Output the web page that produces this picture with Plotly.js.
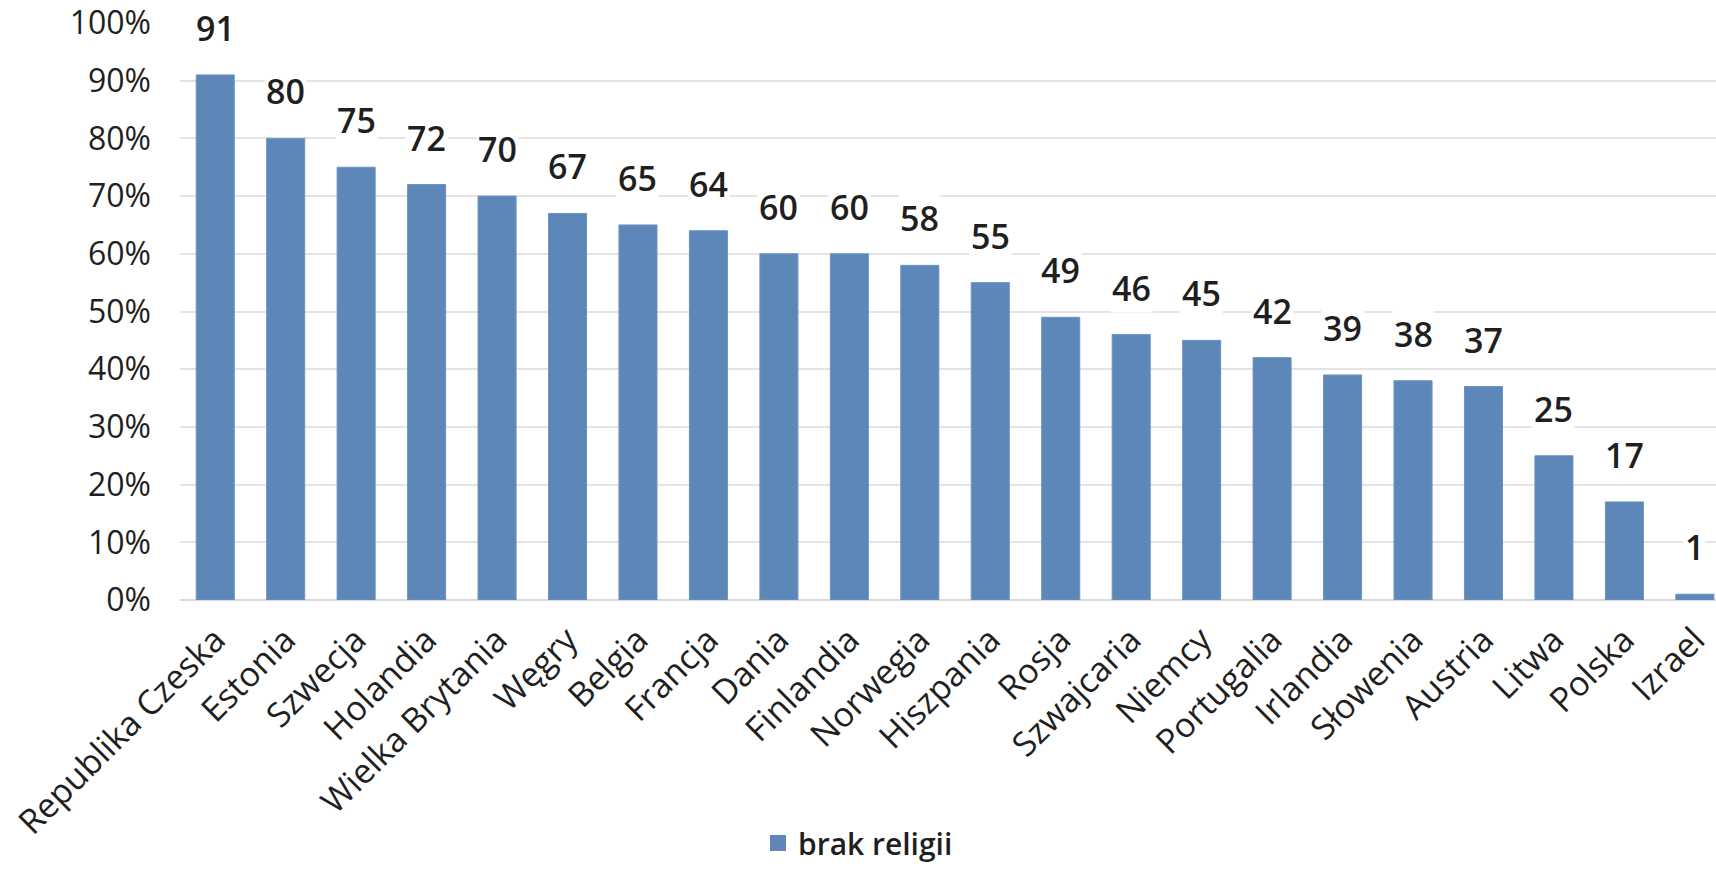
<!DOCTYPE html>
<html>
<head>
<meta charset="utf-8">
<script src="https://cdn.plot.ly/plotly-3.0.1.min.js"></script>
<style>html,body{margin:0;padding:0;background:#fff;}#chart{width:1716px;height:869px;}</style>
</head>
<body>
<div id="chart"></div>
<script>
const countries = ["Republika Czeska","Estonia","Szwecja","Holandia","Wielka Brytania","Węgry","Belgia","Francja","Dania","Finlandia","Norwegia","Hiszpania","Rosja","Szwajcaria","Niemcy","Portugalia","Irlandia","Słowenia","Austria","Litwa","Polska","Izrael"];
const values = [91,80,75,72,70,67,65,64,60,60,58,55,49,46,45,42,39,38,37,25,17,1];
const seriesName = "brak religii";
const yTicks = [0,10,20,30,40,50,60,70,80,90,100];
const yTickLabels = ["0%","10%","20%","30%","40%","50%","60%","70%","80%","90%","100%"];

const txtColor = "#1f1f1f";
const barColor = "#5d87b8";
const fontFam = "'Open Sans', 'Noto Sans', sans-serif";

const barTrace = {
  type: "bar",
  x: countries,
  y: values,
  name: seriesName,
  marker: {color: barColor, line: {color: "#6b93c2", width: 1}},
  showlegend: false,
  hoverinfo: "x+y"
};

// legend-only entry (larger square swatch, like the original)
const legendTrace = {
  type: "scatter",
  mode: "markers",
  x: [null], y: [null],
  name: seriesName,
  marker: {symbol: "square", size: 20, color: barColor},
  showlegend: true
};

const annotations = countries.map((c, i) => ({
  x: c, y: values[i], xref: "x", yref: "y",
  text: String(values[i]),
  showarrow: false,
  yanchor: "bottom",
  yshift: 22,
  bgcolor: "#ffffff",
  font: {family: fontFam, size: 34, color: txtColor, weight: 600}
}));

const layout = {
  width: 1716, height: 869,
  margin: {l: 180, r: 0, t: 23, b: 269},
  paper_bgcolor: "#fff", plot_bgcolor: "#fff",
  bargap: 0.46,
  xaxis: {
    type: "category",
    range: [-0.5, 21.3],
    tickangle: -45,
    tickfont: {family: fontFam, size: 34, color: txtColor, weight: 500},
    showgrid: false, zeroline: false,
    showline: false,
    ticks: "",
    ticklabelstandoff: 12,
    fixedrange: true
  },
  yaxis: {
    range: [0, 100],
    tickmode: "array",
    tickvals: yTicks,
    ticktext: yTickLabels,
    tickfont: {family: fontFam, size: 32, color: txtColor, weight: 500},
    showgrid: true, gridcolor: "#e4e4e4", gridwidth: 2,
    zeroline: true, zerolinecolor: "#d9d9d9", zerolinewidth: 2,
    ticks: "",
    ticklabelstandoff: 28,
    fixedrange: true
  },
  legend: {
    orientation: "h",
    xref: "container", yref: "container",
    x: 0.5, xanchor: "center",
    y: 0.0, yanchor: "bottom",
    itemsizing: "trace",
    itemwidth: 30,
    font: {family: fontFam, size: 30, color: txtColor, weight: 600}
  },
  annotations: annotations
};

Plotly.newPlot("chart", [barTrace, legendTrace], layout, {displayModeBar: false, staticPlot: true});
</script>
</body>
</html>
